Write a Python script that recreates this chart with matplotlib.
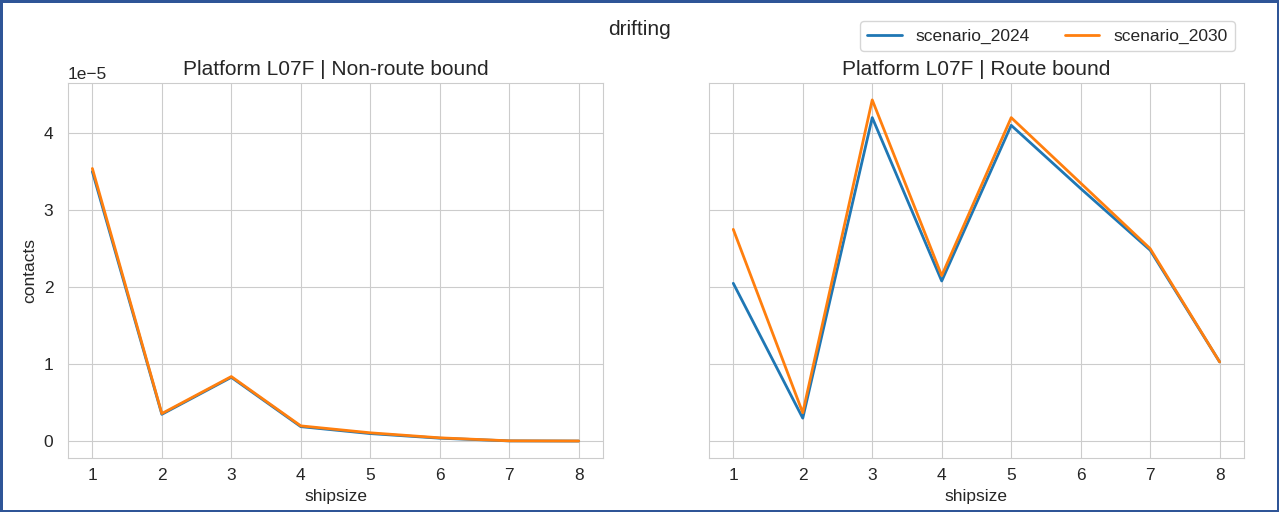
import matplotlib
matplotlib.use("Agg")
import matplotlib.pyplot as plt
import seaborn as sns

shipsize = [1, 2, 3, 4, 5, 6, 7, 8]
nonroute_2024 = [3.50e-5, 0.35e-5, 0.83e-5, 0.19e-5, 0.10e-5, 0.04e-5, 0.005e-5, 0.003e-5]
nonroute_2030 = [3.54e-5, 0.36e-5, 0.84e-5, 0.20e-5, 0.11e-5, 0.045e-5, 0.006e-5, 0.004e-5]
route_2024 = [2.05e-5, 0.30e-5, 4.20e-5, 2.08e-5, 4.10e-5, 3.28e-5, 2.48e-5, 1.03e-5]
route_2030 = [2.75e-5, 0.37e-5, 4.43e-5, 2.15e-5, 4.20e-5, 3.35e-5, 2.50e-5, 1.03e-5]
titles = ["Platform L07F | Non-route bound", "Platform L07F | Route bound"]

sns.set_style("whitegrid")
plt.rcParams['font.family'] = ['Liberation Sans', 'DejaVu Sans']

fig, axes = plt.subplots(1, 2, figsize=(12.79, 5.12), dpi=100, sharey=True,
                         edgecolor='#2f5597', linewidth=2.5)
fig.subplots_adjust(left=0.0532, right=0.9726, top=0.838, bottom=0.105, wspace=0.198)

series = [(nonroute_2024, nonroute_2030), (route_2024, route_2030)]
for ax, (s24, s30), title in zip(axes, series, titles):
    ax.plot(shipsize, s24, color='#1f77b4', lw=2, label='scenario_2024')
    ax.plot(shipsize, s30, color='#ff7f0e', lw=2, label='scenario_2030')
    ax.set_title(title, fontsize=15)
    ax.set_xlabel('shipsize', fontsize=12.5)
    ax.set_xticks(shipsize)
    ax.tick_params(labelsize=12.5)
    ax.tick_params(axis='y', pad=7)
    for sp in ax.spines.values():
        sp.set_color('#cccccc')

axes[0].set_ylabel('contacts', fontsize=12.5, labelpad=5)
axes[0].set_ylim(-0.22e-5, 4.65e-5)
axes[0].yaxis.get_offset_text().set_fontsize(12.5)

fig.suptitle('drifting', fontsize=15, y=0.96)
handles, labels = axes[0].get_legend_handles_labels()
fig.legend(handles, labels, loc='upper right', ncol=2, fontsize=12.5,
           bbox_to_anchor=(0.972, 0.975))

fig.savefig('out.png', dpi=100, edgecolor=fig.get_edgecolor())
